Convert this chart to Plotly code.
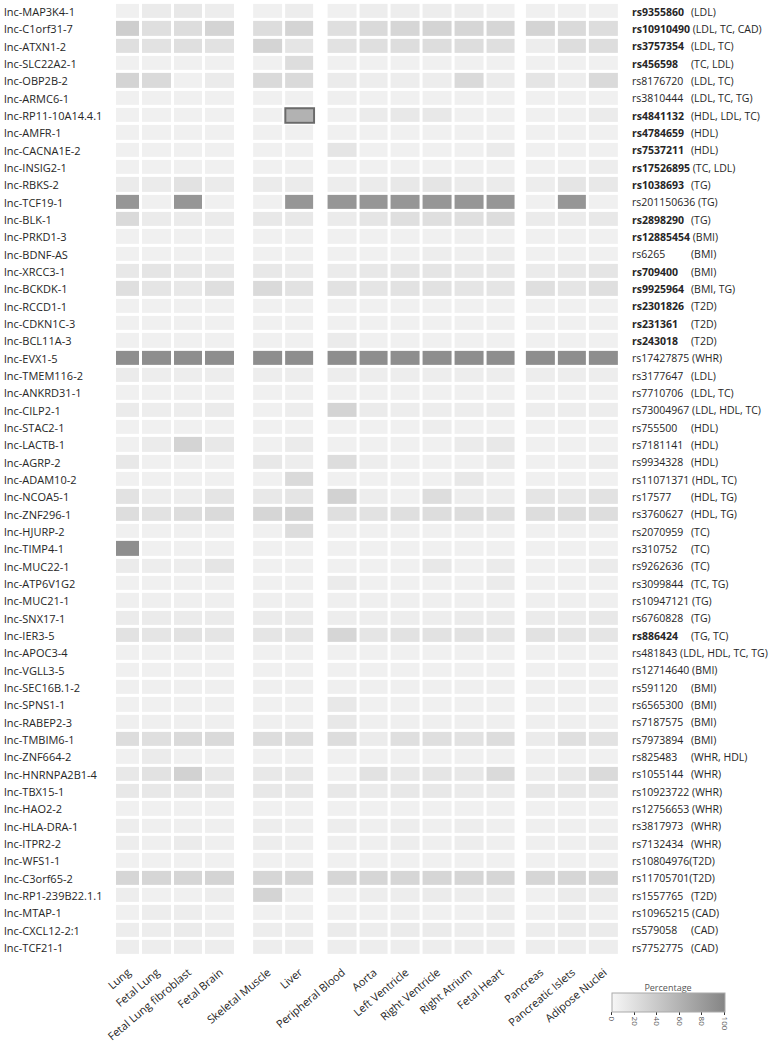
import plotly.graph_objects as go

# ---------------- data ----------------
lnc_names = [
    "lnc-MAP3K4-1", "lnc-C1orf31-7", "lnc-ATXN1-2", "lnc-SLC22A2-1", "lnc-OBP2B-2",
    "lnc-ARMC6-1", "lnc-RP11-10A14.4.1", "lnc-AMFR-1", "lnc-CACNA1E-2", "lnc-INSIG2-1",
    "lnc-RBKS-2", "lnc-TCF19-1", "lnc-BLK-1", "lnc-PRKD1-3", "lnc-BDNF-AS",
    "lnc-XRCC3-1", "lnc-BCKDK-1", "lnc-RCCD1-1", "lnc-CDKN1C-3", "lnc-BCL11A-3",
    "lnc-EVX1-5", "lnc-TMEM116-2", "lnc-ANKRD31-1", "lnc-CILP2-1", "lnc-STAC2-1",
    "lnc-LACTB-1", "lnc-AGRP-2", "lnc-ADAM10-2", "lnc-NCOA5-1", "lnc-ZNF296-1",
    "lnc-HJURP-2", "lnc-TIMP4-1", "lnc-MUC22-1", "lnc-ATP6V1G2", "lnc-MUC21-1",
    "lnc-SNX17-1", "lnc-IER3-5", "lnc-APOC3-4", "lnc-VGLL3-5", "lnc-SEC16B.1-2",
    "lnc-SPNS1-1", "lnc-RABEP2-3", "lnc-TMBIM6-1", "lnc-ZNF664-2", "lnc-HNRNPA2B1-4",
    "lnc-TBX15-1", "lnc-HAO2-2", "lnc-HLA-DRA-1", "lnc-ITPR2-2", "lnc-WFS1-1",
    "lnc-C3orf65-2", "lnc-RP1-239B22.1.1", "lnc-MTAP-1", "lnc-CXCL12-2:1", "lnc-TCF21-1",
]

snp_ids = [
    "rs9355860", "rs10910490", "rs3757354", "rs456598", "rs8176720",
    "rs3810444", "rs4841132", "rs4784659", "rs7537211", "rs17526895",
    "rs1038693", "rs201150636", "rs2898290", "rs12885454", "rs6265",
    "rs709400", "rs9925964", "rs2301826", "rs231361", "rs243018",
    "rs17427875", "rs3177647", "rs7710706", "rs73004967", "rs755500",
    "rs7181141", "rs9934328", "rs11071371", "rs17577", "rs3760627",
    "rs2070959", "rs310752", "rs9262636", "rs3099844", "rs10947121",
    "rs6760828", "rs886424", "rs481843", "rs12714640", "rs591120",
    "rs6565300", "rs7187575", "rs7973894", "rs825483", "rs1055144",
    "rs10923722", "rs12756653", "rs3817973", "rs7132434", "rs10804976",
    "rs11705701", "rs1557765", "rs10965215", "rs579058", "rs7752775",
]

snp_traits = [
    "(LDL)", "(LDL, TC, CAD)", "(LDL, TC)", "(TC, LDL)", "(LDL, TC)",
    "(LDL, TC, TG)", "(HDL, LDL, TC)", "(HDL)", "(HDL)", "(TC, LDL)",
    "(TG)", "(TG)", "(TG)", "(BMI)", "(BMI)",
    "(BMI)", "(BMI, TG)", "(T2D)", "(T2D)", "(T2D)",
    "(WHR)", "(LDL)", "(LDL, TC)", "(LDL, HDL, TC)", "(HDL)",
    "(HDL)", "(HDL)", "(HDL, TC)", "(HDL, TG)", "(HDL, TG)",
    "(TC)", "(TC)", "(TC)", "(TC, TG)", "(TG)",
    "(TG)", "(TG, TC)", "(LDL, HDL, TC, TG)", "(BMI)", "(BMI)",
    "(BMI)", "(BMI)", "(BMI)", "(WHR, HDL)", "(WHR)",
    "(WHR)", "(WHR)", "(WHR)", "(WHR)", "(T2D)",
    "(T2D)", "(T2D)", "(CAD)", "(CAD)", "(CAD)",
]

snp_bold = [
    1, 1, 1, 1, 0, 0, 1, 1, 1, 1,
    1, 0, 1, 1, 0, 1, 1, 1, 1, 1,
    0, 0, 0, 0, 0, 0, 0, 0, 0, 0,
    0, 0, 0, 0, 0, 0, 1, 0, 0, 0,
    0, 0, 0, 0, 0, 0, 0, 0, 0, 0,
    0, 0, 0, 0, 0,
]
no_space_ids = ["rs10804976", "rs11705701"]

tissues = [
    "Lung", "Fetal Lung", "Fetal Lung fibroblast", "Fetal Brain",
    "Skeletal Muscle", "Liver",
    "Peripheral Blood", "Aorta", "Left Ventricle", "Right Ventricle", "Right Atrium", "Fetal Heart",
    "Pancreas", "Pancreatic Islets", "Adipose Nuclei",
]
tissue_groups = [4, 2, 6, 3]

# percentage per tissue, one value per lncRNA row (55 rows)
lung = [5, 35, 20, 5, 30, 5, 5, 5, 5, 5,
        10, 85, 25, 5, 5, 12, 20, 5, 5, 5,
        92, 10, 5, 10, 5, 5, 12, 5, 18, 22,
        5, 92, 10, 5, 6, 10, 18, 5, 5, 6,
        5, 6, 22, 5, 12, 12, 5, 8, 8, 5,
        28, 8, 5, 8, 8]
fetal_lung = [10, 20, 18, 5, 25, 5, 5, 5, 5, 5,
              10, 5, 10, 5, 5, 15, 15, 5, 5, 5,
              92, 8, 5, 8, 5, 10, 5, 5, 8, 18,
              5, 5, 8, 5, 6, 10, 15, 5, 5, 6,
              5, 6, 20, 10, 18, 12, 5, 6, 6, 5,
              28, 5, 8, 8, 8]
fetal_lung_fibroblast = [12, 22, 20, 5, 5, 5, 5, 5, 5, 5,
                         18, 85, 10, 5, 5, 12, 12, 5, 5, 5,
                         92, 8, 5, 8, 5, 30, 5, 5, 8, 22,
                         5, 5, 8, 5, 6, 10, 18, 5, 5, 6,
                         5, 6, 25, 5, 32, 12, 5, 6, 10, 5,
                         28, 5, 8, 10, 8]
fetal_brain = [8, 30, 18, 5, 10, 5, 5, 5, 5, 5,
               10, 5, 10, 5, 5, 12, 20, 5, 5, 5,
               92, 8, 5, 10, 5, 12, 5, 5, 15, 25,
               5, 5, 15, 5, 6, 10, 15, 5, 5, 6,
               5, 6, 25, 5, 12, 12, 5, 6, 6, 5,
               30, 8, 5, 8, 8]
skeletal_muscle = [5, 22, 30, 5, 25, 5, 5, 5, 5, 5,
                   10, 5, 12, 5, 5, 12, 25, 5, 5, 5,
                   92, 8, 5, 5, 5, 5, 12, 5, 12, 28,
                   5, 5, 5, 5, 6, 10, 15, 5, 5, 6,
                   5, 6, 22, 5, 12, 12, 5, 8, 8, 5,
                   28, 30, 5, 8, 8]
liver = [8, 30, 15, 22, 25, 5, 60, 5, 5, 5,
         10, 85, 12, 5, 5, 10, 18, 5, 5, 5,
         92, 8, 5, 8, 5, 10, 8, 25, 15, 32,
         22, 5, 5, 5, 6, 10, 15, 5, 5, 6,
         5, 6, 22, 5, 12, 12, 5, 6, 6, 5,
         28, 5, 5, 8, 8]
peripheral_blood = [5, 20, 18, 5, 10, 6, 5, 5, 15, 5,
                    8, 85, 10, 5, 5, 10, 18, 5, 5, 10,
                    92, 8, 5, 30, 5, 5, 22, 5, 32, 20,
                    5, 5, 5, 10, 6, 8, 28, 5, 5, 6,
                    12, 12, 22, 5, 5, 12, 5, 8, 6, 5,
                    28, 5, 5, 10, 8]
aorta = [8, 25, 20, 5, 8, 5, 10, 5, 5, 5,
         10, 85, 15, 5, 5, 12, 15, 5, 5, 5,
         92, 8, 5, 10, 5, 5, 8, 5, 8, 18,
         5, 5, 5, 5, 6, 8, 15, 5, 5, 6,
         5, 6, 10, 5, 18, 10, 5, 6, 6, 5,
         28, 8, 5, 8, 8]
left_ventricle = [8, 28, 22, 5, 8, 5, 12, 5, 5, 5,
                  12, 85, 20, 5, 5, 15, 18, 5, 5, 5,
                  92, 8, 5, 8, 5, 5, 5, 5, 5, 20,
                  5, 5, 5, 5, 6, 8, 18, 5, 5, 6,
                  5, 6, 20, 5, 12, 12, 5, 8, 8, 5,
                  28, 8, 6, 10, 8]
right_ventricle = [8, 30, 22, 5, 8, 5, 12, 5, 5, 5,
                   15, 85, 20, 5, 8, 15, 18, 5, 5, 5,
                   92, 8, 5, 8, 8, 5, 5, 5, 22, 22,
                   5, 5, 12, 5, 6, 8, 18, 5, 5, 6,
                   5, 6, 20, 5, 15, 12, 5, 6, 6, 5,
                   28, 10, 5, 10, 8]
right_atrium = [8, 28, 22, 5, 25, 5, 5, 5, 5, 5,
                10, 85, 20, 6, 6, 12, 15, 5, 5, 5,
                92, 8, 5, 8, 5, 10, 5, 12, 8, 22,
                5, 5, 5, 5, 6, 10, 18, 5, 5, 6,
                5, 6, 18, 5, 12, 10, 5, 8, 8, 5,
                28, 8, 5, 8, 8]
fetal_heart = [5, 28, 20, 5, 10, 5, 5, 5, 10, 5,
               10, 85, 22, 5, 8, 12, 15, 5, 5, 5,
               92, 8, 5, 8, 5, 12, 10, 5, 8, 20,
               5, 5, 10, 10, 6, 10, 15, 5, 5, 6,
               5, 6, 22, 5, 25, 10, 5, 6, 6, 5,
               28, 8, 8, 8, 8]
pancreas = [5, 30, 8, 5, 15, 5, 5, 5, 5, 5,
            8, 5, 10, 5, 5, 10, 20, 5, 5, 5,
            92, 8, 5, 8, 5, 5, 5, 5, 15, 22,
            5, 5, 5, 5, 6, 10, 18, 5, 5, 6,
            5, 6, 10, 5, 8, 12, 5, 6, 6, 5,
            28, 5, 5, 8, 8]
pancreatic_islets = [5, 25, 22, 5, 8, 5, 5, 5, 5, 5,
                     15, 85, 10, 5, 5, 12, 15, 5, 5, 5,
                     92, 8, 5, 8, 5, 5, 5, 5, 12, 22,
                     5, 5, 5, 5, 6, 10, 15, 5, 5, 6,
                     5, 6, 20, 5, 12, 12, 5, 6, 6, 5,
                     28, 10, 8, 10, 8]
adipose_nuclei = [5, 22, 22, 5, 25, 5, 10, 5, 5, 8,
                  12, 5, 12, 5, 5, 15, 20, 5, 5, 5,
                  92, 8, 5, 8, 5, 5, 8, 5, 18, 22,
                  5, 5, 10, 5, 6, 12, 15, 5, 5, 6,
                  5, 6, 18, 5, 25, 12, 5, 6, 8, 5,
                  28, 10, 5, 10, 8]

tissue_values = [lung, fetal_lung, fetal_lung_fibroblast, fetal_brain,
                 skeletal_muscle, liver,
                 peripheral_blood, aorta, left_ventricle, right_ventricle, right_atrium, fetal_heart,
                 pancreas, pancreatic_islets, adipose_nuclei]

highlight_cell = ("Liver", "lnc-RP11-10A14.4.1")

colorbar_ticks = [0, 20, 40, 60, 80, 100]

# ---------------- layout constants ----------------
FIRST_W = 26.0
COL_W = 31.75
GROUP_GAPS = [16.0, 11.0, 8.0]
MARGIN_L = 115.0
FONT = "Open Sans"
TXT = "#262626"

# column edges per group
edges_all = []
x = 0.0
col_idx = 0
group_edges = []
for g, n in enumerate(tissue_groups):
    e = [x]
    for k in range(n):
        w = FIRST_W if col_idx == 0 else COL_W
        x += w
        e.append(x)
        edges_all.append((e[-2], e[-1]))
        col_idx += 1
    group_edges.append(e)
    if g < len(GROUP_GAPS):
        x += GROUP_GAPS[g]
total_w = x
centers = [(a + b) / 2 for a, b in edges_all]


def px_to_paper(px):
    return (px - MARGIN_L) / total_w


fig = go.Figure()
start = 0
for g, n in enumerate(tissue_groups):
    cols = tissue_values[start:start + n]
    z = [[c[r] for c in cols] for r in range(len(lnc_names))]
    fig.add_trace(go.Heatmap(
        z=z, x=group_edges[g], y=lnc_names,
        coloraxis="coloraxis", xgap=3, ygap=3,
        hovertemplate="%{y}<br>%{z}%<extra></extra>",
    ))
    start += n

# highlighted cell outline
hc = tissues.index(highlight_cell[0])
hr = lnc_names.index(highlight_cell[1])
fig.add_shape(type="rect", xref="x", yref="y",
              x0=edges_all[hc][0] + 1.5, x1=edges_all[hc][1] - 1.5,
              y0=hr - 0.42, y1=hr + 0.42,
              line=dict(color="#6a6a6a", width=2), fillcolor="rgba(0,0,0,0)")

annotations = []
lab_font = dict(family=FONT, size=11, color=TXT)
rs_font = dict(family=FONT, size=10.5, color=TXT)
for i, name in enumerate(lnc_names):
    annotations.append(dict(x=px_to_paper(2), y=name, xref="paper", yref="y", text=name,
                            showarrow=False, xanchor="left", yanchor="middle", font=lab_font))
RS_X = px_to_paper(631)
TRAIT_X = px_to_paper(690)
for i, rs in enumerate(snp_ids):
    rs_txt = f"<b>{rs}</b>" if snp_bold[i] else rs
    tr = snp_traits[i]
    if rs in no_space_ids:
        items = [(RS_X, rs_txt + tr)]
    elif len(rs) >= 10 or len(tr) > 14:
        items = [(RS_X, rs_txt + " " + tr)]
    else:
        items = [(RS_X, rs_txt), (TRAIT_X, tr)]
    for xx, tt in items:
        annotations.append(dict(x=xx, y=lnc_names[i], xref="paper", yref="y", text=tt,
                                showarrow=False, xanchor="left", yanchor="middle", font=rs_font))

W, H = 781, 1050
MT, MB = 2, 93
MR = W - MARGIN_L - total_w
plot_h = H - MT - MB

fig.update_layout(
    width=W, height=H,
    margin=dict(l=MARGIN_L, r=MR, t=MT, b=MB, pad=0, autoexpand=False),
    paper_bgcolor="white", plot_bgcolor="white",
    font=dict(family=FONT, color=TXT),
    annotations=annotations,
    xaxis=dict(range=[0, total_w], tickmode="array", tickvals=centers, ticktext=tissues,
               tickangle=-40, tickfont=dict(size=11, family=FONT, color=TXT),
               ticklabelstandoff=6,
               showgrid=False, zeroline=False, showline=False, ticks="", fixedrange=True),
    yaxis=dict(type="category", categoryarray=lnc_names, autorange="reversed",
               showticklabels=False, showgrid=False, zeroline=False, ticks="", fixedrange=True),
    coloraxis=dict(
        cmin=0, cmax=100,
        colorscale=[[0, "#f6f6f6"], [1, "#858585"]],
        colorbar=dict(
            orientation="h",
            x=px_to_paper(612), xanchor="left",
            y=(H - MB - 980) / plot_h, yanchor="top",
            len=113, lenmode="pixels", thickness=19, thicknessmode="pixels",
            title=dict(text="Percentage", side="top", font=dict(size=9, color="#555", family=FONT)),
            tickvals=colorbar_ticks, ticktext=[str(t) for t in colorbar_ticks],
            tickangle=90, ticks="outside", ticklen=3, tickcolor="#333",
            tickfont=dict(size=8, color="#555", family=FONT),
            outlinewidth=1, outlinecolor="#aaa", xpad=0, ypad=0,
        ),
    ),
    showlegend=False,
)

fig.write_html("out.html", config={"displayModeBar": False},
               post_script="document.body.style.margin='0';document.body.style.padding='0';")
